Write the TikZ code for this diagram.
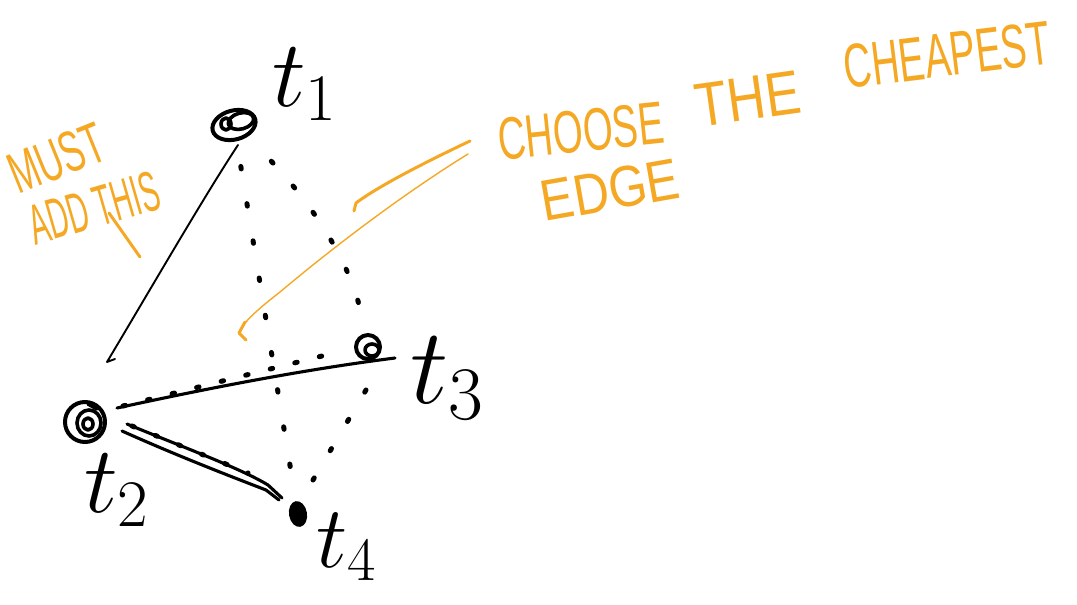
\RequirePackage{fix-cm}
\documentclass[tikz,border=0pt]{standalone}
\usepackage{fontspec}
\newfontfamily\notefont{Liberation Sans}
\usetikzlibrary{shapes.geometric,calc}
\definecolor{hlorange}{HTML}{F4A823}
\begin{document}
\begin{tikzpicture}[x=1pt,y=-1pt,
  ink/.style={line cap=round,line join=round},
  vtx/.style={draw,line width=4pt,inner sep=0pt},
  scrib/.style={ink,line width=3.6pt},
  edgethin/.style={ink,line width=1.9pt},
  edgebold/.style={ink,line width=3.1pt},
  dotedge/.style={ink,line width=5pt},
  note/.style={text=hlorange,inner sep=0pt,anchor=center},
  pointer/.style={ink,draw=hlorange},
  lbl/.style={inner sep=0pt,anchor=base west}
]
\useasboundingbox (0,0) rectangle (1077,605);

% ---------- vertices ----------
\node[vtx,ellipse,minimum width=44pt,minimum height=29pt,rotate=15] (t1) at (234,125) {};
\draw[scrib,rotate around={15:(241,121)}] (241,121) ellipse [x radius=13pt,y radius=8pt];
\draw[scrib] (226,124) ellipse [x radius=5pt,y radius=6pt];

\node[vtx,circle,minimum size=40pt] (t2) at (85,422) {};
\draw[scrib] (89,423) ellipse [x radius=12pt,y radius=13pt];
\draw[scrib] (88,424) ellipse [x radius=5pt,y radius=6pt];
\draw[scrib] (88,404) -- (97,409);

\node[vtx,circle,minimum size=24pt] (t3) at (368,347) {};
\draw[scrib] (372,350) ellipse [x radius=7pt,y radius=6pt];

\node[fill,ellipse,minimum width=18pt,minimum height=26pt,inner sep=0pt,rotate=10] (t4) at (298,514) {};

% ---------- labels ----------
\node[lbl,font=\fontsize{95}{95}\selectfont] (l1) at (272,106) {$t_{1}$};
\node[lbl,font=\fontsize{95}{95}\selectfont] (l2) at (84,512) {$t_{2}$};
\node[lbl,font=\fontsize{108}{108}\selectfont] (l3) at (410,403) {$t_{3}$};
\node[lbl,font=\fontsize{88}{88}\selectfont] (l4) at (316,567) {$t_{4}$};

% ---------- solid edges ----------
\draw[edgethin] ($(t1.center)+(4,20)$) .. controls (205,195) and (150,290) .. ($(t2.center)+(22,-60)$) -- ($(t2.center)+(30,-63)$);
\draw[edgebold] ($(t2.center)+(32,-14)$) .. controls (200,390) and (300,370) .. ($(t3.center)+(27,11)$);
\draw[edgebold] ($(t2.center)+(42,2)$) .. controls (180,446) and (240,468) .. (268,485) -- ($(t4.center)+(-16,-16)$);
\draw[edgebold] ($(t2.center)+(37,9)$) .. controls (180,457) and (235,478) .. (266,490) -- ($(t4.center)+(-19,-14)$);

% ---------- dotted edges ----------
\draw[dotedge,dash pattern=on 2.5pt off 35.2pt,shorten <=42pt,shorten >=48pt] (t1.center) -- (t4.center);
\draw[dotedge,dash pattern=on 2.5pt off 30.5pt,shorten <=52pt,shorten >=33pt] (t1.center) .. controls (270,160) and (345,235) .. (t3.center);
\draw[dotedge,dash pattern=on 2.5pt off 22.8pt] ($(t2.center)+(38,-16)$) -- ($(t3.center)+(-46,9)$);
\draw[dotedge,dash pattern=on 2.5pt off 22.5pt] ($(t2.center)+(47,4)$) -- ($(t4.center)+(-50,-41)$);
\draw[dotedge,dash pattern=on 2.5pt off 31.5pt] ($(t3.center)+(-2,43)$) -- ($(t4.center)+(15,-34)$);

% ---------- orange notes ----------
\node[note,rotate=22,xscale=0.6,font=\notefont\fontsize{58}{58}\selectfont] (must) at (57,158) {MUST};
\node[note,rotate=16,xscale=0.5,font=\notefont\fontsize{57}{57}\selectfont] (addthis) at (94,208) {ADD THIS};
\draw[pointer,line width=3pt] (109,213) -- (140,257);

\node[note,rotate=6,xscale=0.64,font=\notefont\fontsize{60}{60}\selectfont] (choose) at (581,131) {CHOOSE};
\node[note,rotate=8,xscale=0.85,font=\notefont\fontsize{62}{62}\selectfont] (the) at (748,99) {THE};
\node[note,rotate=7,xscale=0.62,font=\notefont\fontsize{62}{62}\selectfont] (cheapest) at (947,55) {CHEAPEST};
\node[note,rotate=10,xscale=0.85,font=\notefont\fontsize{58}{58}\selectfont] (edge) at (610,190) {EDGE};

\coordinate (ptop) at (470,141);
\coordinate (pbot) at (468,154);
\draw[pointer,line width=3pt] (ptop) .. controls (430,160) and (380,185) .. (356,203) -- (354,211);
\draw[pointer,line width=1.4pt] (pbot) .. controls (400,196) and (330,250) .. (280,292) .. controls (262,306) and (248,318) .. (243,326);
\draw[pointer,line width=3pt] (245,322) -- (239,333) -- (246,340);
\end{tikzpicture}
\end{document}
